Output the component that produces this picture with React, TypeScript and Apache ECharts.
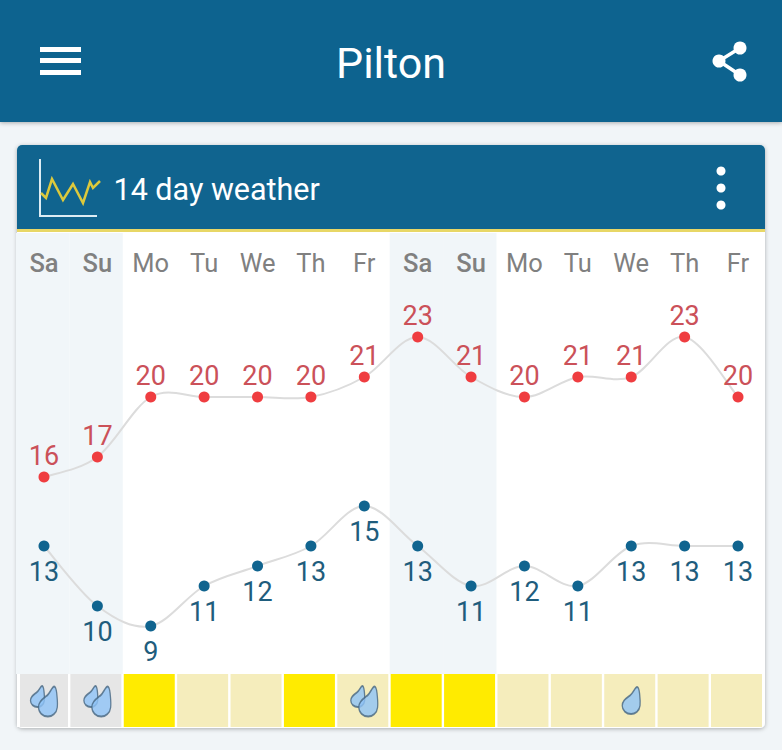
import React, { useEffect, useRef } from "react";
import * as echarts from "echarts";

const place = "Pilton";
const cardTitle = "14 day weather";
const days = ["Sa", "Su", "Mo", "Tu", "We", "Th", "Fr", "Sa", "Su", "Mo", "Tu", "We", "Th", "Fr"];
const highs = [16, 17, 20, 20, 20, 20, 21, 23, 21, 20, 21, 21, 23, 20];
const lows = [13, 10, 9, 11, 12, 13, 15, 13, 11, 12, 11, 13, 13, 13];
const weekendBand = [1, 1, 0, 0, 0, 0, 0, 1, 1, 0, 0, 0, 0, 0];
// 0 = grey overcast, 1 = pale cloud, 2 = bright sun
const skyKind = [0, 0, 2, 1, 1, 2, 1, 2, 2, 1, 1, 1, 1, 1];
// number of rain drops drawn in each day's cell
const dropCount = [2, 2, 0, 0, 0, 0, 2, 0, 0, 0, 0, 1, 0, 0];

const BLUE = "#10648f";
const RED = "#ef3d40";
const RED_TEXT = "#cb5159";
const BLUE_TEXT = "#1f5d7d";
const skyColors = ["#e6e6e6", "#f5edbc", "#ffeb00"];
const DROP =
  "path://M15 0C16 0 17 2 17.5 6C18 11 18.5 14 18 18C17.5 23 13 26 9 26C4 26 0 22.5 0 18C0 13 4 11 8 8C11 6 13 0 15 0Z";

// One Catmull-Rom curve through the whole series, placed by the axes' scales.
function curveSeries(values: number[], yAxisIndex: number) {
  return {
    type: "custom",
    xAxisIndex: 0,
    yAxisIndex,
    silent: true,
    z: 2,
    data: values.map((v, i) => [i, v]),
    encode: { x: 0, y: 1 },
    renderItem: (params: any, api: any) => {
      if (params.dataIndex !== 0) return { type: "group", children: [] };
      const p = values.map((v, i) => api.coord([i, v]) as number[]);
      let d = `M${p[0][0]} ${p[0][1]}`;
      for (let i = 0; i < p.length - 1; i++) {
        const a = p[Math.max(i - 1, 0)];
        const b = p[i];
        const c = p[i + 1];
        const e = p[Math.min(i + 2, p.length - 1)];
        d += `C${b[0] + (c[0] - a[0]) / 6} ${b[1] + (c[1] - a[1]) / 6} ${c[0] - (e[0] - b[0]) / 6} ${c[1] - (e[1] - b[1]) / 6} ${c[0]} ${c[1]}`;
      }
      return {
        type: "path",
        shape: { pathData: d },
        style: { fill: "none", stroke: "#dcdcdc", lineWidth: 2 },
      };
    },
  };
}

export default function App() {
  const ref = useRef<HTMLDivElement>(null);
  useEffect(() => {
    document.body.style.margin = "0";
    const chart = echarts.init(ref.current!, undefined, { renderer: "svg" });
    const font = "Roboto";
    const white = { fill: "#fff" };
    const bar = (y: number) => ({
      type: "rect",
      shape: { x: 40, y, width: 41, height: 5 },
      style: white,
    });
    const dropStyle = { color: "#8fc3f7", borderColor: "#46657f", borderWidth: 1.6 };
    const hiddenCat = {
      type: "category",
      data: days,
      axisLine: { show: false },
      axisTick: { show: false },
      axisLabel: { show: false },
    };
    chart.setOption({
      animation: false,
      backgroundColor: "#f1f5f8",
      title: [
        {
          text: place,
          left: 391,
          top: 63,
          padding: 0,
          textAlign: "center",
          textVerticalAlign: "middle",
          textStyle: { color: "#fff", fontFamily: font, fontSize: 43, fontWeight: "normal" },
        },
        {
          text: cardTitle,
          left: 113.5,
          top: 189,
          padding: 0,
          textVerticalAlign: "middle",
          textStyle: { color: "#fff", fontFamily: font, fontSize: 30.5, fontWeight: "normal" },
        },
      ],
      graphic: [
        {
          type: "rect",
          shape: { x: 0, y: 0, width: 782, height: 122 },
          style: { fill: BLUE, shadowBlur: 4, shadowColor: "rgba(0,0,0,0.3)", shadowOffsetY: 1 },
        },
        bar(47),
        bar(58),
        bar(70),
        {
          type: "polyline",
          shape: { points: [[740, 48], [719, 61], [740, 75]] },
          style: { stroke: "#fff", lineWidth: 3.5, fill: "none" },
        },
        { type: "circle", shape: { cx: 740, cy: 48, r: 6.5 }, style: white },
        { type: "circle", shape: { cx: 719, cy: 61, r: 6.5 }, style: white },
        { type: "circle", shape: { cx: 740, cy: 75, r: 6.5 }, style: white },
        {
          type: "rect",
          shape: { x: 17, y: 145, width: 748, height: 583, r: 5 },
          style: { fill: "#fff", shadowBlur: 4, shadowColor: "rgba(0,0,0,0.3)", shadowOffsetY: 1 },
        },
        {
          type: "rect",
          shape: { x: 17, y: 145, width: 748, height: 85, r: [5, 5, 0, 0] },
          style: { fill: BLUE },
        },
        {
          type: "rect",
          shape: { x: 17, y: 229, width: 748, height: 3 },
          style: { fill: "#e8d766" },
        },
        {
          type: "polyline",
          shape: { points: [[40, 159], [40, 216], [97, 216]] },
          style: { stroke: "#dcecf4", lineWidth: 2, fill: "none" },
        },
        {
          type: "polyline",
          shape: {
            points: [[41, 193], [46, 198], [52, 179], [63, 200], [73, 184], [83, 203], [90, 182], [93, 188], [100, 181]],
          },
          style: { stroke: "#dcc93c", lineWidth: 2.5, fill: "none" },
        },
        { type: "circle", shape: { cx: 721, cy: 171, r: 4.5 }, style: white },
        { type: "circle", shape: { cx: 721, cy: 188, r: 4.5 }, style: white },
        { type: "circle", shape: { cx: 721, cy: 205, r: 4.5 }, style: white },
        {
          type: "rect",
          z: 10,
          shape: { x: 17, y: 674, width: 3, height: 53 },
          style: white,
        },
      ],
      grid: [
        { left: 17.3, width: 747.4, top: 233, height: 441 },
        { left: 15.8, width: 747.4, top: 674, height: 53 },
        { left: 16, width: 747.4, top: 233, height: 441 },
      ],
      xAxis: [
        {
          type: "category",
          gridIndex: 0,
          position: "top",
          z: 5,
          data: days.map((d, i) => ({
            value: d,
            textStyle: { fontWeight: weekendBand[i] ? 500 : "normal" },
          })),
          axisLine: { show: false },
          axisTick: { show: false },
          splitLine: { show: false },
          axisLabel: {
            inside: true,
            interval: 0,
            margin: 17,
            color: "#808080",
            fontFamily: font,
            fontSize: 25.5,
          },
        },
        { ...hiddenCat, gridIndex: 1 },
        { ...hiddenCat, gridIndex: 2 },
      ],
      yAxis: [
        { type: "value", gridIndex: 0, min: 6.15, max: 28.2, show: false },
        { type: "value", gridIndex: 0, min: 6.6, max: 28.65, show: false },
        { type: "value", gridIndex: 2, min: 0, max: 1, show: false },
        { type: "value", gridIndex: 1, min: 0, max: 1, show: false },
      ],
      series: [
        {
          type: "bar",
          xAxisIndex: 2,
          yAxisIndex: 2,
          data: weekendBand,
          barWidth: "100%",
          itemStyle: { color: "#f1f6f9" },
          silent: true,
          z: 1,
        },
        curveSeries(highs, 0),
        curveSeries(lows, 1),
        {
          type: "line",
          name: "High",
          xAxisIndex: 0,
          yAxisIndex: 0,
          data: highs,
          symbol: "circle",
          symbolSize: 11,
          lineStyle: { width: 0, opacity: 0 },
          itemStyle: { color: RED },
          label: {
            show: true,
            position: "top",
            distance: 2.5,
            color: RED_TEXT,
            fontFamily: font,
            fontSize: 27,
          },
          z: 3,
        },
        {
          type: "line",
          name: "Low",
          xAxisIndex: 0,
          yAxisIndex: 1,
          data: lows,
          symbol: "circle",
          symbolSize: 11,
          lineStyle: { width: 0, opacity: 0 },
          itemStyle: { color: BLUE },
          label: {
            show: true,
            position: "bottom",
            distance: 6.5,
            color: BLUE_TEXT,
            fontFamily: font,
            fontSize: 27,
          },
          z: 3,
        },
        {
          type: "bar",
          xAxisIndex: 1,
          yAxisIndex: 3,
          barWidth: 51,
          silent: true,
          data: skyKind.map((k) => ({ value: 1, itemStyle: { color: skyColors[k] } })),
          z: 2,
        },
        {
          type: "scatter",
          xAxisIndex: 1,
          yAxisIndex: 3,
          symbol: DROP,
          symbolKeepAspect: false,
          symbolSize: [14, 21],
          symbolOffset: [-5, -4],
          itemStyle: dropStyle,
          silent: true,
          z: 3,
          data: dropCount.map((n, i) => (n === 2 ? [i, 0.5] : null)).filter(Boolean),
        },
        {
          type: "scatter",
          xAxisIndex: 1,
          yAxisIndex: 3,
          symbol: DROP,
          symbolSize: [19, 30],
          symbolOffset: [5.5, 1],
          itemStyle: dropStyle,
          silent: true,
          z: 4,
          data: dropCount.map((n, i) => (n === 2 ? [i, 0.5] : null)).filter(Boolean),
        },
        {
          type: "scatter",
          xAxisIndex: 1,
          yAxisIndex: 3,
          symbol: DROP,
          symbolSize: [18, 27],
          symbolOffset: [1.5, 0],
          itemStyle: dropStyle,
          silent: true,
          z: 4,
          data: dropCount.map((n, i) => (n === 1 ? [i, 0.5] : null)).filter(Boolean),
        },
      ],
    });
    return () => chart.dispose();
  }, []);
  return <div ref={ref} style={{ width: 782, height: 750 }} />;
}
